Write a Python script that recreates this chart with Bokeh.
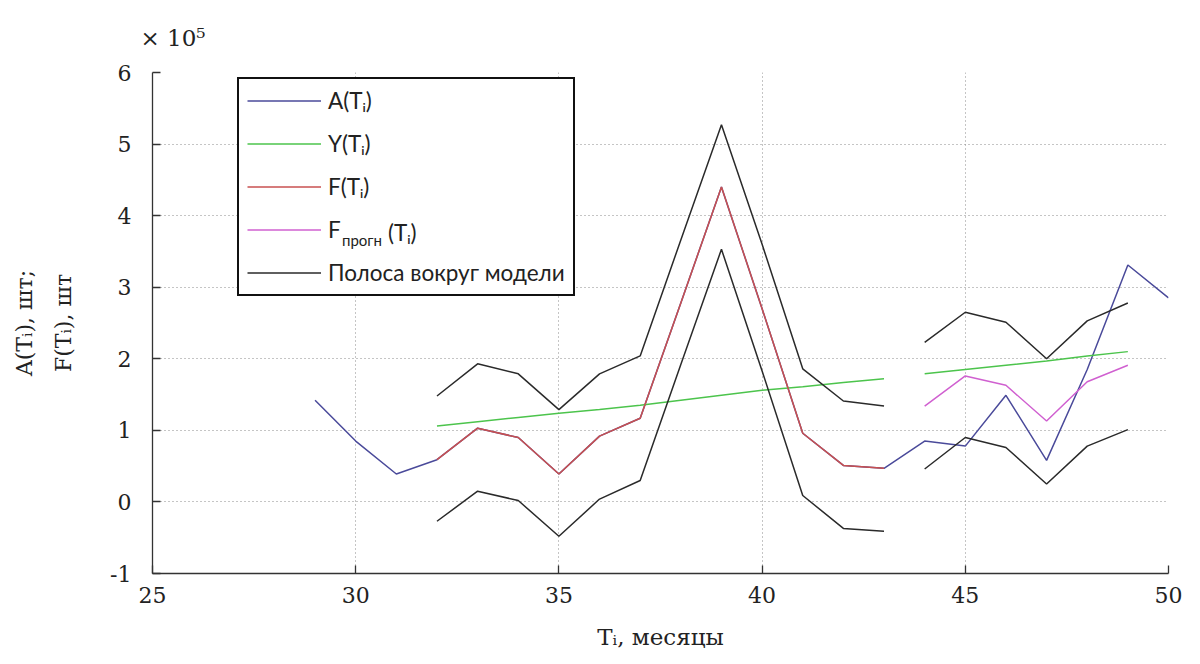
import math
from bokeh.plotting import figure
from bokeh.models import Legend, LegendItem, Title, Range1d, FixedTicker
from bokeh.embed import file_html
from bokeh.resources import INLINE

# ---- data (values in units of 10^5 pieces) ----
months_a = [29, 30, 31, 32, 33, 34, 35, 36, 37, 38, 39, 40, 41, 42, 43, 44, 45, 46, 47, 48, 49, 50]
a_vals = [1.42, 0.85, 0.39, 0.59, 1.03, 0.90, 0.39, 0.92, 1.17, 2.78, 4.40, 2.70, 0.96, 0.51, 0.47,
          0.85, 0.78, 1.49, 0.58, 1.85, 3.31, 2.85]

months_fit = [32, 33, 34, 35, 36, 37, 38, 39, 40, 41, 42, 43]
y_fit = [1.06, 1.12, 1.18, 1.24, 1.29, 1.35, 1.42, 1.49, 1.56, 1.61, 1.67, 1.72]
f_fit = [0.59, 1.03, 0.90, 0.39, 0.92, 1.17, 2.78, 4.40, 2.70, 0.96, 0.51, 0.47]
upper_fit = [1.48, 1.93, 1.79, 1.29, 1.79, 2.04, 3.66, 5.27, 3.60, 1.86, 1.41, 1.34]
lower_fit = [-0.27, 0.15, 0.02, -0.48, 0.04, 0.30, 1.92, 3.53, 1.83, 0.09, -0.37, -0.41]

months_fc = [44, 45, 46, 47, 48, 49]
y_fc = [1.79, 1.85, 1.91, 1.97, 2.04, 2.10]
f_fc = [1.34, 1.76, 1.63, 1.13, 1.68, 1.91]
upper_fc = [2.23, 2.65, 2.51, 2.00, 2.53, 2.78]
lower_fc = [0.46, 0.90, 0.76, 0.25, 0.78, 1.01]

x_ticks = [25, 30, 35, 40, 45, 50]
y_ticks = [-1, 0, 1, 2, 3, 4, 5, 6]

# ---- styles ----
C_A = "#4a4a9a"
C_Y = "#4cc44c"
C_F = "#c85050"
C_FP = "#d060d0"
C_B = "#2a2a2a"
LW = 1.5
SERIF = "DejaVu Serif"
SANS = "Lato"

p = figure(width=1200, height=664, x_range=Range1d(25, 50), y_range=Range1d(-1, 6),
           output_backend="svg", toolbar_location=None,
           min_border_left=152, min_border_right=32, min_border_top=65, min_border_bottom=91)
p.outline_line_color = None
p.background_fill_color = "white"
p.border_fill_color = "white"

for ax in (p.xaxis[0], p.yaxis[0]):
    ax.major_label_text_font = SERIF
    ax.major_label_text_font_size = "22px"
    ax.major_label_text_color = "#222222"
    ax.axis_line_color = "#333333"
    ax.axis_line_width = 1.3
    ax.major_tick_line_color = "#333333"
    ax.major_tick_line_width = 1.3
    ax.major_tick_in = 8
    ax.major_tick_out = 0
    ax.minor_tick_in = 0
    ax.minor_tick_out = 0

p.xaxis.ticker = FixedTicker(ticks=x_ticks)
p.yaxis.ticker = FixedTicker(ticks=y_ticks)
p.yaxis.major_label_overrides = {-1: "-1"}
p.xaxis.major_label_standoff = 13
p.yaxis.major_label_standoff = 21

p.xaxis.axis_label = "T\u1d62, месяцы"
p.xaxis.axis_label_text_font = SERIF
p.xaxis.axis_label_text_font_size = "23px"
p.xaxis.axis_label_text_font_style = "normal"
p.xaxis.axis_label_text_color = "#222222"
p.xaxis.axis_label_standoff = 18

p.yaxis.axis_label = "A(T\u1d62), шт;\nF(T\u1d62), шт"
p.yaxis.axis_label_text_font = SERIF
p.yaxis.axis_label_text_font_size = "22px"
p.yaxis.axis_label_text_font_style = "normal"
p.yaxis.axis_label_text_color = "#222222"
p.yaxis.axis_label_text_line_height = 1.55
p.yaxis.axis_label_standoff = 31

for g in (p.xgrid[0], p.ygrid[0]):
    g.grid_line_color = "#8a8a8a"
    g.grid_line_dash = "1 3"
    g.grid_line_width = 1

# exponent note above the axis
p.add_layout(Title(text="× 10\u2075", align="left", offset=-12, standoff=44,
                   text_font=SERIF, text_font_size="23px", text_font_style="normal",
                   text_color="#222222"), "above")

# ---- lines ----
r_a = p.line(months_a, a_vals, line_color=C_A, line_width=LW)
r_y1 = p.line(months_fit, y_fit, line_color=C_Y, line_width=LW)
r_y2 = p.line(months_fc, y_fc, line_color=C_Y, line_width=LW)
r_u1 = p.line(months_fit, upper_fit, line_color=C_B, line_width=LW)
r_l1 = p.line(months_fit, lower_fit, line_color=C_B, line_width=LW)
r_u2 = p.line(months_fc, upper_fc, line_color=C_B, line_width=LW)
r_l2 = p.line(months_fc, lower_fc, line_color=C_B, line_width=LW)
r_f = p.line(months_fit, f_fit, line_color=C_F, line_width=LW)
r_fp = p.line(months_fc, f_fc, line_color=C_FP, line_width=LW)

legend = Legend(items=[
    LegendItem(label="A(T\u1d62)", renderers=[r_a]),
    LegendItem(label="Y(T\u1d62)", renderers=[r_y1]),
    LegendItem(label="F(T\u1d62)", renderers=[r_f]),
    LegendItem(label="F", renderers=[r_fp]),
    LegendItem(label="Полоса вокруг модели", renderers=[r_u1]),
], location=(85, 277))
legend.margin = 0
legend.padding = 8
legend.spacing = 16
legend.glyph_width = 74
legend.glyph_height = 27
legend.label_height = 27
legend.label_standoff = 7
legend.label_text_font = SANS
legend.label_text_font_size = "22.5px"
legend.label_text_color = "#222222"
legend.border_line_color = "#111111"
legend.border_line_alpha = 1.0
legend.border_line_width = 2
legend.background_fill_color = "white"
legend.background_fill_alpha = 1.0
p.add_layout(legend, "center")


def overlay_text(label, loc, size, height):
    """Borderless, glyph-less legend used to place extra text pieces of the F_прогн entry."""
    lg = Legend(items=[LegendItem(label=label, renderers=[r_fp])], location=loc)
    lg.margin = 0
    lg.padding = 0
    lg.glyph_width = 0
    lg.glyph_height = height
    lg.label_height = height
    lg.label_standoff = 0
    lg.label_text_font = SANS
    lg.label_text_font_size = size
    lg.label_text_color = "#222222"
    lg.border_line_alpha = 0
    lg.background_fill_alpha = 0
    p.add_layout(lg, "center")


overlay_text("прогн", (190, 324), "15px", 18)
overlay_text("(T\u1d62)", (236, 327), "22.5px", 27)

open("out.html", "w").write(file_html(p, INLINE))
